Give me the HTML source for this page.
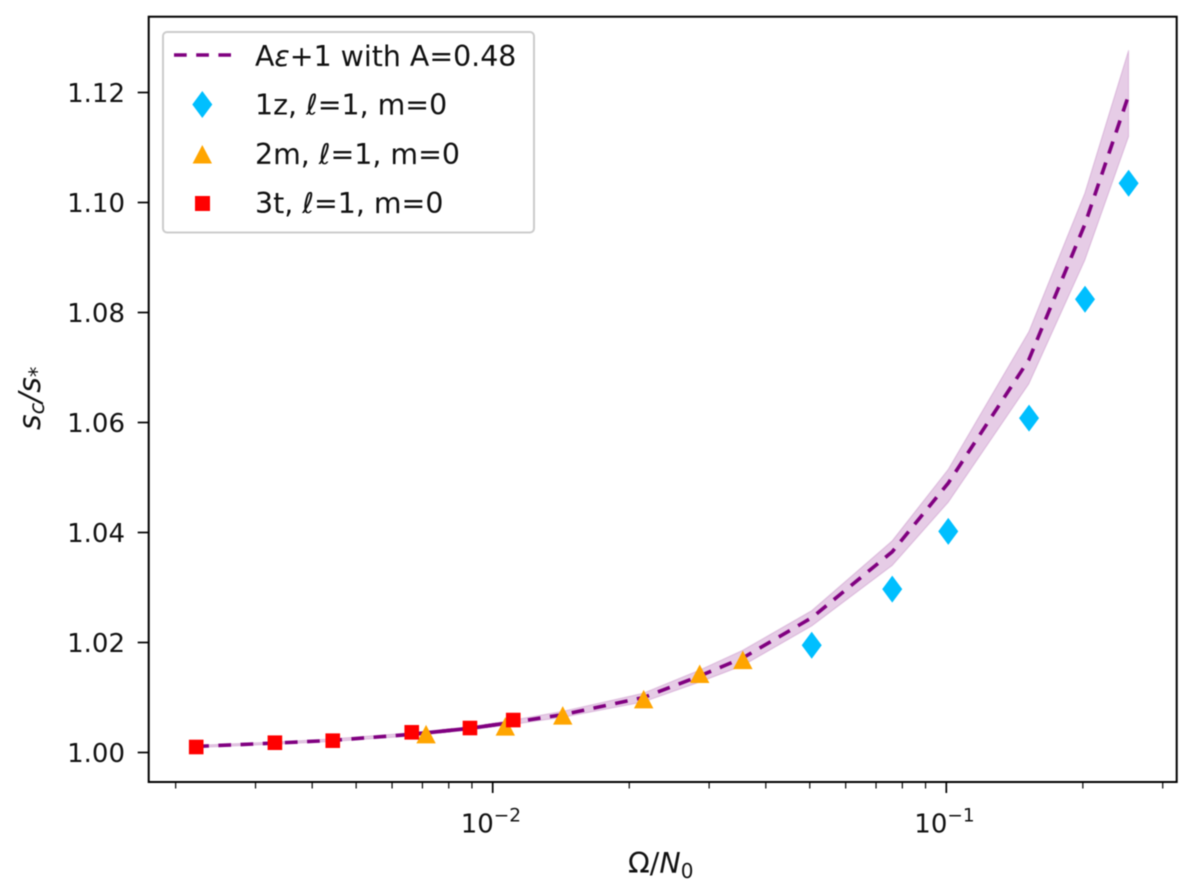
<!DOCTYPE html>
<html>
<head>
<meta charset="utf-8">
<title>Critical entropy ratio chart</title>
<style>
html,body{margin:0;padding:0;background:#fff;width:1200px;height:891px;overflow:hidden}
svg{display:block;filter:blur(0.65px)}
text{font-family:"DejaVu Sans",sans-serif;fill:#111;font-size:26px}
.it{font-style:italic}
.lg{font-size:28.4px}
</style>
</head>
<body>
<svg id="chart" xmlns="http://www.w3.org/2000/svg" width="1200" height="891" viewBox="0 0 1200 891">
  <rect width="1200" height="891" fill="#fff"/>
  <g id="plot"></g>
  <g id="axes"></g>
  <rect x="148.7" y="16.7" width="1028" height="765.3" fill="none" stroke="#000" stroke-width="2"/>
  <text x="628" y="873" style="font-size:28.5px"><tspan>Ω/</tspan><tspan class="it">N</tspan><tspan font-size="20" dy="5">0</tspan></text>
  <text transform="translate(40,430) rotate(-90)" style="font-size:30px"><tspan class="it">s</tspan><tspan class="it" font-size="21" dy="4">c</tspan><tspan class="it" dy="-4">/s</tspan><tspan class="it" font-size="21" dy="4">*</tspan></text>
  <g>
    <rect x="163" y="32" width="371" height="200.5" rx="4" fill="#fff" fill-opacity="0.85" stroke="#ccc" stroke-width="2"/>
    <line x1="174" y1="55" x2="231" y2="55" stroke="#800080" stroke-width="3.6" stroke-dasharray="12.7 9.5"/>
    <polygon points="202.3,91 212.3,104.5 202.3,118 192.3,104.5" fill="#00bfff"/>
    <polygon points="202.3,145 212,163.5 192.6,163.5" fill="#ffa500"/>
    <rect x="195" y="196" width="15" height="15" fill="#ff0000"/>
    <text class="lg" x="255" y="66">A<tspan class="it">ε</tspan>+1 with A=0.48</text>
    <text class="lg" x="255" y="114.5">1z, <tspan class="it">ℓ</tspan>=1, m=0</text>
    <text class="lg" x="255" y="164">2m, <tspan class="it">ℓ</tspan>=1, m=0</text>
    <text class="lg" x="255" y="213">3t, <tspan class="it">ℓ</tspan>=1, m=0</text>
  </g>
</svg>
<script>
// Chart data
const yTickValues = [1.00, 1.02, 1.04, 1.06, 1.08, 1.10, 1.12];
const yTickLabels = ["1.00", "1.02", "1.04", "1.06", "1.08", "1.10", "1.12"];
const xMajorTicks = [0.01, 0.1];
const xMajorExponents = ["−2", "−1"];
const xMinorTicks = [0.002, 0.003, 0.004, 0.005, 0.006, 0.007, 0.008, 0.009, 0.02, 0.03, 0.04, 0.05, 0.06, 0.07, 0.08, 0.09, 0.2, 0.3];
const fitX = [0.00222, 0.00331, 0.00444, 0.00663, 0.00891, 0.0111, 0.0143, 0.0215, 0.0286, 0.0356, 0.0505, 0.076, 0.101, 0.152, 0.202, 0.2523];
const fitY = [1.0011, 1.0017, 1.0022, 1.0033, 1.0044, 1.0055, 1.0069, 1.0100, 1.0139, 1.0172, 1.0245, 1.0365, 1.0490, 1.0714, 1.0960, 1.1195];
const bandTop = [1.0013, 1.0019, 1.0025, 1.0036, 1.0047, 1.0059, 1.0075, 1.0108, 1.0150, 1.0186, 1.0258, 1.0385, 1.0515, 1.0765, 1.1017, 1.1277];
const bandBottom = [1.0009, 1.0015, 1.0020, 1.0030, 1.0041, 1.0051, 1.0064, 1.0092, 1.0128, 1.0158, 1.0230, 1.0340, 1.0455, 1.0670, 1.0895, 1.1120];
const diamondX = [0.0505, 0.0760, 0.101, 0.1522, 0.2022, 0.2523];
const diamondY = [1.0195, 1.0297, 1.0402, 1.0608, 1.0824, 1.1035];
const triangleX = [0.00713, 0.01066, 0.01427, 0.02152, 0.0286, 0.0356];
const triangleY = [1.0033, 1.0047, 1.0067, 1.00967, 1.01427, 1.0168];
const squareX = [0.00222, 0.00331, 0.00444, 0.00663, 0.00891, 0.0111];
const squareY = [1.0010, 1.00178, 1.00215, 1.00367, 1.00445, 1.0059];

// Axis functions
function sx(v) { return 492.7 + (Math.log10(v) + 2) * 453.6; }
function sy(v) { return 752.5 - (v - 1) / 0.02 * 110; }

const NS = "http://www.w3.org/2000/svg";
const plot = document.getElementById("plot");
const axes = document.getElementById("axes");
function make(tag, parent, attrs) {
  const el = document.createElementNS(NS, tag);
  for (const k in attrs) el.setAttribute(k, attrs[k]);
  parent.appendChild(el);
  return el;
}

// Confidence band
const upper = fitX.map((x, i) => sx(x).toFixed(1) + "," + sy(bandTop[i]).toFixed(1));
const lower = fitX.map((x, i) => sx(x).toFixed(1) + "," + sy(bandBottom[i]).toFixed(1)).reverse();
const band = make("polygon", plot, { points: upper.concat(lower).join(" "), fill: "#800080", "fill-opacity": 0.2, stroke: "#800080", "stroke-opacity": 0.15, "stroke-width": 1.2 });



// Fit line
const fitPts = fitX.map((x, i) => sx(x).toFixed(1) + "," + sy(fitY[i]).toFixed(1)).join(" ");
const fit = make("polyline", plot, { points: fitPts, fill: "none", stroke: "#800080", "stroke-width": 3.6, "stroke-dasharray": "12.7 9.5" });



// Region where the dashes overlap and read as solid
const overlapPts = fitX.slice(3, 6).map((x, i) => sx(x).toFixed(1) + "," + sy(fitY[i + 3]).toFixed(1)).join(" ");
const overlap = make("polyline", plot, { points: overlapPts, fill: "none", stroke: "#800080", "stroke-width": 3.6 });



// Markers
diamondX.forEach((x, i) => {
  const cx = sx(x), cy = sy(diamondY[i]);
  const p = make("polygon", plot, { points: `${cx},${cy - 13.5} ${cx + 10},${cy} ${cx},${cy + 13.5} ${cx - 10},${cy}`, fill: "#00bfff" });
  
  
});
triangleX.forEach((x, i) => {
  const cx = sx(x), cy = sy(triangleY[i]);
  const p = make("polygon", plot, { points: `${cx},${cy - 9.5} ${cx + 9.7},${cy + 9} ${cx - 9.7},${cy + 9}`, fill: "#ffa500" });
  
  
});
squareX.forEach((x, i) => {
  const cx = sx(x), cy = sy(squareY[i]);
  const p = make("rect", plot, { x: cx - 7.3, y: cy - 7.3, width: 14.6, height: 14.6, fill: "#ff0000" });
  
  
});

// Y axis
yTickValues.forEach((v, i) => {
  const y = sy(v);
  const t = make("line", axes, { x1: 137.7, x2: 148.7, y1: y, y2: y, stroke: "#000", "stroke-width": 1.7 });
  
  
  const l = make("text", axes, { x: 125, y: y + 9.5, "text-anchor": "end" });
  l.textContent = yTickLabels[i];
  
  
});

// X axis
xMinorTicks.forEach((v) => {
  const x = sx(v);
  const t = make("line", axes, { x1: x, x2: x, y1: 782, y2: 788.5, stroke: "#000", "stroke-width": 1.2 });
  
  
});
xMajorTicks.forEach((v, i) => {
  const x = sx(v);
  const t = make("line", axes, { x1: x, x2: x, y1: 782, y2: 793, stroke: "#000", "stroke-width": 1.7 });
  
  
  const l = make("text", axes, { x: x - 32, y: 832.7 });
  
  
  const base = make("tspan", l, {});
  base.textContent = "10";
  const exp = make("tspan", l, { "font-size": 18.5, dy: -11 });
  exp.textContent = xMajorExponents[i];
});
</script>
</body>
</html>
